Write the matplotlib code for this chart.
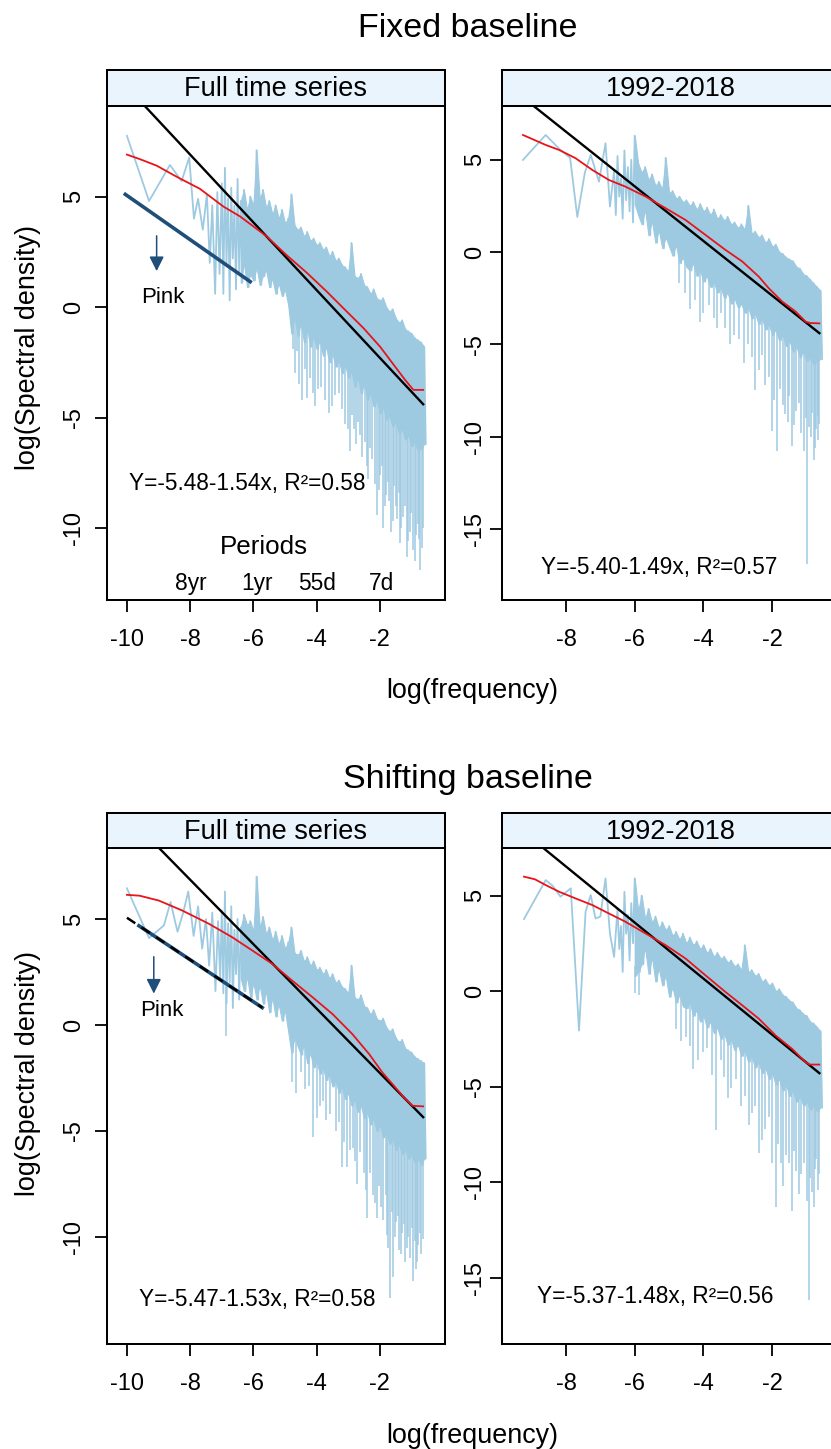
"""
Spectral density panels: fixed vs shifting baseline
"""
import numpy as np
import matplotlib
matplotlib.use("Agg")
import matplotlib.pyplot as plt

plt.rcParams['font.family'] = ['Liberation Sans', 'DejaVu Sans']
plt.rcParams['axes.unicode_minus'] = False

W, H = 831, 1449

LIGHT = '#9ecae1'
RED = '#e8141a'
NAVY = '#1f4e79'
STRIP = '#eaf4fc'

# ---------------- data ----------------
# light blue periodogram: sparse low-frequency vertices, then the dense band
# (upper edge / body lower edge on a 0.1 grid of log frequency) and its downward spikes

# Fixed baseline, full time series
fix_full_lf_x = [-10.0, -9.3, -8.64, -8.27, -8.03, -7.88, -7.75, -7.6, -7.47, -7.38,
                 -7.3, -7.21, -7.14, -7.07]
fix_full_lf_y = [7.75, 4.8, 6.43, 5.7, 6.77, 4.0, 4.9, 3.5, 5.1, 2.0,
                 4.6, 0.6, 5.2, 1.5]
fix_full_band_start = -7.0
fix_full_hi = [5.6, 6.3, 4.9, 5.4, 4.6, 5.8, 4.8, 5.3, 4.4, 5.0,
               4.6, 7.1, 4.9, 5.3, 4.5, 4.8, 4.2, 4.6, 4.0, 4.4,
               3.8, 4.0, 5.1, 3.7, 3.5, 3.6, 3.2, 3.4, 3.0, 3.1,
               2.8, 2.9, 2.6, 2.7, 2.3, 2.5, 2.1, 2.2, 1.9, 1.8,
               1.6, 2.9, 1.4, 1.3, 1.5, 1.0, 0.9, 0.6, 0.8, 0.4,
               0.3, 0.4, 0.0, -0.2, -0.1, -0.5, -0.7, -0.6, -1.0, -1.1,
               -1.2, -1.4, -1.5, -1.6, -1.8]
fix_full_lo = [0.6, 2.0, 0.3, 2.2, 0.8, 1.6, 1.1, 2.0, 0.9, 1.5,
               1.2, 1.8, 1.0, 1.4, 1.7, 0.9, 1.3, 0.6, 1.1, 0.5,
               0.8, 0.1, -1.2, -0.4, -1.3, -0.7, -1.6, -1.0, -1.8, -1.3,
               -1.9, -1.5, -2.2, -1.8, -2.5, -2.1, -2.7, -2.4, -3.0, -2.6,
               -3.2, -2.9, -3.6, -3.2, -3.9, -3.5, -4.2, -3.9, -4.5, -4.2,
               -4.8, -4.5, -5.1, -4.9, -5.4, -5.2, -5.7, -5.5, -6.0, -5.8,
               -6.3, -6.1, -6.5, -6.4, -6.2]
fix_full_spike_x = [-4.75, -4.62, -4.45, -4.3, -4.12, -3.95, -3.72, -3.5, -3.3, -3.1,
                    -2.94, -2.82, -2.7, -2.55, -2.42, -2.3, -2.15, -2.1, -1.98, -1.89,
                    -1.8, -1.7, -1.6, -1.5, -1.36, -1.28, -1.15, -1.05, -0.95, -0.85,
                    -0.73, -0.68,
                    -4.68, -4.55, -4.38, -4.2, -4.05, -3.85, -3.62, -3.42, -3.2, -3.02,
                    -2.88, -2.76, -2.62, -2.48, -2.36, -2.24, -2.04, -1.93, -1.84, -1.75,
                    -1.65, -1.55, -1.45, -1.4, -1.32, -1.22, -1.1, -1.0, -0.9, -0.8,
                    -0.76, -0.64]
fix_full_spike_y = [-1.9, -2.0, -4.2, -4.1, -3.9, -3.7, -4.2, -4.5, -3.9, -5.3,
                    -6.5, -5.5, -5.2, -6.8, -7.2, -6.4, -8.0, -9.4, -7.6, -10.0,
                    -8.5, -8.8, -9.7, -9.0, -10.7, -9.5, -11.3, -10.2, -11.0, -10.3,
                    -11.9, -10.9,
                    -3.0, -3.5, -2.8, -3.2, -4.5, -3.6, -4.8, -4.0, -4.6, -5.5,
                    -4.9, -6.2, -5.8, -6.1, -7.8, -6.9, -8.3, -7.2, -9.0, -7.9,
                    -10.2, -8.1, -9.6, -8.4, -10.0, -9.0, -10.6, -9.3, -11.5, -9.8,
                    -10.5, -10.0]
fix_full_red_x = [-10.0, -9.6, -9.06, -8.43, -7.69, -6.95, -6.42, -5.58, -4.95, -4.31,
                  -3.68, -3.05, -2.52, -1.99, -1.57, -1.2, -0.94, -0.63]
fix_full_red_y = [6.9, 6.7, 6.4, 5.9, 5.35, 4.55, 4.1, 3.2, 2.35, 1.55,
                  0.7, -0.2, -0.95, -1.8, -2.6, -3.3, -3.75, -3.75]
fix_full_fit_x = [-9.5, -0.63]
fix_full_fit_y = [9.2, -4.4]

# Fixed baseline, 1992-2018
fix_recent_lf_x = [-9.25, -8.59, -8.2, -7.88, -7.67, -7.45, -7.28, -7.04, -6.85, -6.72]
fix_recent_lf_y = [4.99, 6.34, 5.6, 5.1, 1.9, 4.3, 5.26, 3.81, 5.89, 2.46]
fix_recent_band_start = -6.6
fix_recent_hi = [4.4, 5.2, 4.0, 5.5, 4.6, 5.0, 6.3, 4.8, 4.3, 4.6,
                 3.9, 4.2, 3.6, 3.8, 3.4, 5.1, 3.2, 3.3, 2.9, 3.0,
                 2.7, 2.8, 2.5, 2.7, 2.3, 2.6, 2.2, 2.4, 2.0, 2.3,
                 1.8, 2.0, 1.7, 1.9, 1.5, 1.6, 1.3, 1.5, 1.2, 2.5,
                 1.0, 1.1, 0.8, 0.9, 0.5, 0.7, 0.3, 0.4, 0.0, -0.1,
                 -0.3, -0.4, -0.5, -0.8, -0.9, -1.2, -1.3, -1.5, -1.7, -1.9,
                 -2.1]
fix_recent_lo = [2.0, 3.0, 1.8, 2.8, 2.2, 1.6, 2.6, 2.0, 1.5, 2.3,
                 0.9, 1.7, 0.5, 1.2, 0.2, 0.8, 0.3, -0.2, 0.4, -0.6,
                 -0.3, -0.8, -1.0, -0.6, -1.3, -1.0, -1.6, -1.3, -1.9, -1.6,
                 -2.2, -1.9, -2.5, -2.2, -2.8, -2.5, -3.0, -2.8, -3.3, -3.0,
                 -3.6, -3.3, -3.9, -3.6, -4.2, -3.9, -4.5, -4.2, -4.8, -4.5,
                 -5.1, -4.8, -5.4, -5.1, -5.7, -5.4, -5.9, -5.7, -6.1, -5.9,
                 -5.8]
fix_recent_spike_x = [-4.7, -4.4, -4.0, -3.6, -3.36, -3.1, -2.83, -2.58, -2.4, -2.2,
                      -2.0, -1.86, -1.7, -1.55, -1.42, -1.3, -1.15, -0.98, -0.88, -0.79,
                      -0.72, -0.66,
                      -4.55, -4.25, -4.1, -3.85, -3.7, -3.48, -3.22, -2.96, -2.7, -2.5,
                      -2.3, -2.1, -1.95, -1.78, -1.64, -1.5, -1.36, -1.22, -1.08, -1.02,
                      -0.93, -0.84, -0.75, -0.68, -0.64]
fix_recent_spike_y = [-1.7, -3.1, -3.3, -4.1, -4.1, -4.5, -6.0, -5.7, -6.4, -7.2,
                      -9.7, -10.8, -8.3, -9.2, -10.5, -8.6, -9.8, -16.9, -10.0, -11.3,
                      -9.6, -10.2,
                      -2.2, -2.6, -3.8, -2.9, -3.6, -3.3, -5.0, -4.7, -5.0, -7.5,
                      -5.6, -6.8, -8.0, -7.4, -8.8, -7.8, -9.4, -8.2, -10.8, -9.0,
                      -9.5, -8.7, -10.6, -8.9, -9.3]
fix_recent_red_x = [-9.25, -8.59, -8.2, -7.72, -7.23, -6.75, -6.27, -5.68, -5.1, -4.52,
                    -3.94, -3.36, -2.87, -2.39, -2.1, -1.71, -1.32, -1.03, -0.9, -0.63]
fix_recent_red_y = [6.34, 5.8, 5.53, 5.08, 4.44, 3.9, 3.54, 3.0, 2.37, 1.73,
                    0.92, 0.11, -0.52, -1.34, -1.97, -2.69, -3.23, -3.78, -3.85, -3.87]
fix_recent_fit_x = [-9.0, -0.63]
fix_recent_fit_y = [8.0, -4.4]

# Shifting baseline, full time series
shf_full_lf_x = [-10.0, -9.3, -8.83, -8.62, -8.4, -8.22, -8.06, -7.89, -7.75, -7.62,
                 -7.5, -7.4, -7.3, -7.2, -7.12, -7.05]
shf_full_lf_y = [6.45, 4.1, 4.7, 5.8, 4.4, 5.3, 6.3, 4.2, 5.6, 3.6,
                 5.0, 2.8, 5.3, 1.6, 4.9, 2.2]
shf_full_band_start = -7.0
shf_full_hi = [5.4, 6.3, 4.8, 5.6, 4.5, 5.0, 4.6, 5.2, 4.7, 4.9,
               4.4, 7.0, 4.6, 5.1, 4.3, 4.6, 4.0, 4.4, 3.8, 4.2,
               3.6, 3.9, 4.6, 3.4, 3.3, 3.5, 3.0, 3.2, 2.8, 3.0,
               2.6, 2.7, 2.4, 2.6, 2.2, 2.4, 2.0, 2.1, 1.8, 1.7,
               1.5, 2.8, 1.3, 1.2, 1.4, 0.9, 0.8, 0.5, 0.7, 0.3,
               0.2, 0.3, -0.1, -0.3, -0.2, -0.6, -0.8, -0.7, -1.1, -1.2,
               -1.3, -1.5, -1.6, -1.7, -1.8]
shf_full_lo = [1.5, 1.0, 2.0, 0.8, 2.4, 1.2, 2.2, 1.6, 2.3, 1.3,
               2.0, 1.2, 1.9, 1.0, 1.6, 0.6, 1.3, 0.4, 1.0, 0.2,
               0.7, -0.3, -1.3, -0.6, -1.0, -1.4, -0.9, -1.8, -1.3, -2.0,
               -1.7, -2.3, -2.0, -2.6, -2.3, -2.9, -2.6, -3.2, -2.9, -3.5,
               -3.2, -3.8, -3.5, -4.1, -3.8, -4.4, -4.1, -4.7, -4.4, -5.0,
               -4.7, -5.3, -5.0, -5.6, -5.3, -5.9, -5.6, -6.1, -5.9, -6.3,
               -6.1, -6.5, -6.3, -6.6, -6.3]
shf_full_spike_x = [-6.87, -4.77, -4.5, -4.13, -3.9, -3.7, -3.4, -3.2, -3.05, -2.85,
                    -2.73, -2.5, -2.4, -2.22, -2.1, -1.95, -1.78, -1.68, -1.57, -1.48,
                    -1.38, -1.3, -1.2, -1.1, -0.94, -0.86, -0.78, -0.7,
                    -4.65, -4.38, -4.25, -4.0, -3.8, -3.58, -3.3, -3.12, -2.95, -2.8,
                    -2.62, -2.45, -2.3, -2.15, -2.02, -1.9, -1.82, -1.73, -1.62, -1.52,
                    -1.43, -1.34, -1.25, -1.15, -1.05, -0.98, -0.9, -0.82, -0.74, -0.65]
shf_full_spike_y = [-0.5, -2.7, -2.2, -5.3, -3.8, -4.5, -5.0, -6.7, -6.7, -5.8,
                    -7.5, -7.0, -9.1, -8.0, -9.1, -8.6, -9.9, -12.9, -11.9, -9.3,
                    -10.6, -9.8, -11.2, -10.0, -12.1, -11.5, -10.4, -10.8,
                    -3.2, -3.0, -2.9, -4.4, -3.6, -4.2, -4.6, -5.5, -5.9, -6.4,
                    -6.0, -7.8, -7.0, -8.4, -7.6, -9.2, -8.0, -10.5, -8.8, -10.0,
                    -9.0, -10.8, -9.4, -10.5, -11.0, -9.6, -10.2, -11.2, -9.8, -10.1]
shf_full_red_x = [-10.0, -9.6, -8.99, -8.25, -7.4, -6.67, -6.03, -5.4, -4.77, -4.13,
                  -3.5, -2.87, -2.34, -1.92, -1.6, -1.25, -0.97, -0.63]
shf_full_red_y = [6.14, 6.1, 5.87, 5.4, 4.77, 4.14, 3.51, 2.88, 2.09, 1.31,
                  0.52, -0.43, -1.37, -2.24, -2.79, -3.4, -3.81, -3.84]
shf_full_fit_x = [-9.05, -0.63]
shf_full_fit_y = [8.45, -4.35]

# Shifting baseline, 1992-2018
shf_recent_lf_x = [-9.22, -8.59, -8.38, -8.16, -7.86, -7.62, -7.43, -7.28, -7.14, -7.0,
                   -6.85, -6.72, -6.6]
shf_recent_lf_y = [3.77, 5.81, 5.5, 4.94, 5.38, -2.07, 4.15, 5.03, 3.8, 3.9,
                   5.9, 3.0, 1.79]
shf_recent_band_start = -6.5
shf_recent_hi = [4.3, 3.4, 5.2, 4.0, 4.6, 5.9, 4.2, 5.0, 3.8, 4.3,
                 3.6, 3.9, 3.3, 3.6, 3.2, 3.4, 2.9, 3.1, 2.7, 3.0,
                 2.5, 2.8, 2.4, 2.6, 2.2, 2.4, 2.0, 2.2, 1.8, 2.0,
                 1.7, 1.8, 1.5, 1.6, 1.3, 1.4, 1.1, 2.4, 1.0, 1.1,
                 0.8, 0.9, 0.5, 0.6, 0.3, 0.4, 0.0, 0.1, -0.2, -0.3,
                 -0.5, -0.6, -0.9, -1.0, -1.2, -1.3, -1.6, -1.7, -1.9, -2.1]
shf_recent_lo = [2.2, 1.0, 3.0, 1.6, 2.5, 0.8, 1.0, 1.4, 2.3, 0.9,
                 1.8, 0.5, 1.2, 0.3, 0.8, -0.3, 0.2, -0.6, -0.2, -0.8,
                 -0.9, -0.6, -1.3, -1.0, -1.6, -1.3, -1.9, -1.6, -2.2, -1.9,
                 -2.5, -2.2, -2.8, -2.5, -3.1, -2.8, -3.4, -3.1, -3.7, -3.4,
                 -4.0, -3.7, -4.3, -4.0, -4.6, -4.3, -4.9, -4.6, -5.2, -4.9,
                 -5.5, -5.2, -5.8, -5.5, -6.0, -5.8, -6.2, -6.0, -6.3, -6.1]
shf_recent_spike_x = [-6.0, -5.88, -4.8, -4.5, -4.3, -4.0, -3.65, -3.4, -3.2, -2.9,
                      -2.6, -2.4, -2.2, -1.9, -1.75, -1.6, -1.42, -1.3, -1.15, -0.94,
                      -0.85, -0.75, -0.68,
                      -4.65, -4.4, -4.15, -3.9, -3.75, -3.5, -3.3, -3.05, -2.8, -2.68,
                      -2.5, -2.3, -2.1, -2.0, -1.82, -1.68, -1.52, -1.36, -1.22, -1.08,
                      -1.0, -0.9, -0.8, -0.72, -0.64]
shf_recent_spike_y = [-0.1, -0.2, -2.0, -2.4, -4.1, -3.2, -7.3, -4.5, -5.1, -6.0,
                      -6.4, -8.5, -7.2, -11.3, -9.0, -8.6, -11.5, -9.4, -9.6, -16.2,
                      -10.5, -9.3, -10.4,
                      -2.6, -2.9, -3.6, -3.0, -4.4, -3.6, -5.6, -4.6, -5.5, -7.0,
                      -6.0, -7.8, -6.6, -9.0, -8.0, -10.2, -9.0, -8.4, -10.6, -9.0,
                      -11.0, -9.8, -11.3, -8.8, -9.6]
shf_recent_red_x = [-9.22, -8.9, -8.59, -8.2, -7.72, -7.23, -6.75, -6.27, -5.68, -5.1,
                    -4.52, -3.94, -3.36, -2.87, -2.39, -1.9, -1.42, -1.03, -0.9, -0.63]
shf_recent_red_y = [5.99, 5.85, 5.55, 5.2, 4.85, 4.5, 4.06, 3.63, 3.01, 2.4,
                    1.7, 0.82, -0.05, -0.75, -1.45, -2.33, -3.03, -3.73, -3.85, -3.85]
shf_recent_fit_x = [-8.7, -0.63]
shf_recent_fit_y = [7.55, -4.3]

# pink-noise reference lines
fix_pink_x = [-10.05, -6.1]
fix_pink_y = [5.1, 1.15]
shf_pink_x = [-9.62, -5.72]
shf_pink_y = [4.68, 0.82]
shf_pink_dash_x = [-10.0, -5.72]
shf_pink_dash_y = [5.06, 0.82]

# period labels on the top-left panel
period_labels = ['8yr', '1yr', '55d', '7d']
period_pos = [-7.98, -5.9, -4.0, -1.95]

equations = ['Y=-5.48-1.54x, R\u00b2=0.58', 'Y=-5.40-1.49x, R\u00b2=0.57',
             'Y=-5.47-1.53x, R\u00b2=0.58', 'Y=-5.37-1.48x, R\u00b2=0.56']


def px_rect(left, top, width, height):
    return [left / W, 1 - (top + height) / H, width / W, height / H]


def draw_spectrum(ax, lf_x, lf_y, start, hi, lo, spike_x, spike_y, fill_from):
    grid = start + 0.1 * np.arange(len(hi))
    hi = np.asarray(hi)
    lo = np.asarray(lo)
    # zigzag between upper edge and lower edge, joined to the sparse part
    zx = np.column_stack([grid, grid + 0.05]).ravel()
    zy = np.column_stack([hi, lo]).ravel()
    ax.plot(np.concatenate([lf_x, zx]), np.concatenate([lf_y, zy]),
            color=LIGHT, lw=1.3, zorder=2)
    keep = grid >= fill_from - 1e-9
    ax.fill_between(grid[keep], lo[keep], hi[keep], color=LIGHT, lw=0.8, zorder=2)
    top = np.interp(spike_x, grid, lo) + 0.5
    ax.vlines(spike_x, spike_y, top, color=LIGHT, lw=1.1, zorder=2)


def make_panel(fig, left, top, bottom, strip_top, label, xlim, ylim, xticks, yticks,
               spec, fill_from, red, fit, eq, eq_pos, ylab_pad):
    ax = fig.add_axes(px_rect(left, top, 338, bottom - top))
    draw_spectrum(ax, *spec, fill_from)
    ax.plot(red[0], red[1], color=RED, lw=1.3, zorder=4)
    ax.plot(fit[0], fit[1], color='black', lw=1.7, zorder=3)
    ax.set_xlim(xlim)
    ax.set_ylim(ylim)
    ax.set_xticks(xticks)
    ax.set_yticks(yticks)
    ax.set_xticklabels([str(t) for t in xticks])
    ax.set_yticklabels([str(t) for t in yticks])
    for s in ax.spines.values():
        s.set_linewidth(1.45)
    ax.tick_params(axis='both', length=8.5, width=1.3, labelsize=17)
    ax.tick_params(axis='x', pad=12.5)
    ax.tick_params(axis='y', pad=ylab_pad, labelrotation=90)
    for lab in ax.get_yticklabels():
        lab.set_va('center')
    ax.text(eq_pos[0], eq_pos[1], eq, ha='center', va='center', fontsize=16.3)

    sax = fig.add_axes(px_rect(left, strip_top, 338, top - strip_top))
    sax.set_facecolor(STRIP)
    sax.set_xticks([])
    sax.set_yticks([])
    for s in sax.spines.values():
        s.set_linewidth(1.45)
    sax.text(0.5, 0.47, label, ha='center', va='center', fontsize=19.5,
             transform=sax.transAxes)
    return ax


if __name__ == "__main__":
    fig = plt.figure(figsize=(W / 100, H / 100), dpi=100)

    # ---- fixed baseline ----
    ax1 = make_panel(fig, 107, 106, 600, 70, 'Full time series',
                     (-10.63, 0.06), (-13.26, 9.1), [-10, -8, -6, -4, -2], [-10, -5, 0, 5],
                     (fix_full_lf_x, fix_full_lf_y, fix_full_band_start, fix_full_hi,
                      fix_full_lo, fix_full_spike_x, fix_full_spike_y), -6.4,
                     (fix_full_red_x, fix_full_red_y), (fix_full_fit_x, fix_full_fit_y),
                     equations[0], (-6.2, -8.0), 7)
    ax1.plot(fix_pink_x, fix_pink_y, color=NAVY, lw=2.6, zorder=3)
    ax1.annotate('', xy=(-9.06, 1.5), xytext=(-9.06, 3.35),
                 arrowprops=dict(arrowstyle='-|>', color=NAVY, lw=1.1, mutation_scale=22))
    ax1.text(-8.86, 0.45, 'Pink', ha='center', va='center', fontsize=16)
    ax1.text(-5.66, -10.85, 'Periods', ha='center', va='center', fontsize=18.7)
    for lab, p in zip(period_labels, period_pos):
        ax1.text(p, -12.5, lab, ha='center', va='center', fontsize=16.4)

    make_panel(fig, 502, 106, 600, 70, '1992-2018',
               (-9.86, -0.03), (-18.86, 7.91), [-8, -6, -4, -2], [-15, -10, -5, 0, 5],
               (fix_recent_lf_x, fix_recent_lf_y, fix_recent_band_start, fix_recent_hi,
                fix_recent_lo, fix_recent_spike_x, fix_recent_spike_y), -6.0,
               (fix_recent_red_x, fix_recent_red_y), (fix_recent_fit_x, fix_recent_fit_y),
               equations[1], (-5.3, -17.1), 3)

    # ---- shifting baseline ----
    ax3 = make_panel(fig, 107, 848, 1344, 813, 'Full time series',
                     (-10.63, 0.06), (-15.05, 8.35), [-10, -8, -6, -4, -2], [-10, -5, 0, 5],
                     (shf_full_lf_x, shf_full_lf_y, shf_full_band_start, shf_full_hi,
                      shf_full_lo, shf_full_spike_x, shf_full_spike_y), -6.4,
                     (shf_full_red_x, shf_full_red_y), (shf_full_fit_x, shf_full_fit_y),
                     equations[2], (-5.88, -12.94), 7)
    ax3.plot(shf_pink_x, shf_pink_y, color=NAVY, lw=2.6, zorder=3)
    ax3.plot(shf_pink_dash_x, shf_pink_dash_y, color='black', lw=1.8, ls=(0, (4, 3)), zorder=3)
    ax3.annotate('', xy=(-9.15, 1.35), xytext=(-9.15, 3.35),
                 arrowprops=dict(arrowstyle='-|>', color=NAVY, lw=1.1, mutation_scale=22))
    ax3.text(-8.9, 0.68, 'Pink', ha='center', va='center', fontsize=16)

    make_panel(fig, 502, 848, 1344, 813, '1992-2018',
               (-9.86, -0.03), (-18.48, 7.49), [-8, -6, -4, -2], [-15, -10, -5, 0, 5],
               (shf_recent_lf_x, shf_recent_lf_y, shf_recent_band_start, shf_recent_hi,
                shf_recent_lo, shf_recent_spike_x, shf_recent_spike_y), -6.0,
               (shf_recent_red_x, shf_recent_red_y), (shf_recent_fit_x, shf_recent_fit_y),
               equations[3], (-5.39, -16.0), 3)

    # titles and axis labels
    fig.text(468 / W, 1 - 37 / H, 'Fixed baseline', ha='center', va='baseline', fontsize=24.5)
    fig.text(468 / W, 1 - 788 / H, 'Shifting baseline', ha='center', va='baseline', fontsize=24.5)
    fig.text(472 / W, 1 - 691 / H, 'log(frequency)', ha='center', va='center', fontsize=19.4)
    fig.text(472 / W, 1 - 1436 / H, 'log(frequency)', ha='center', va='center', fontsize=19.4)
    fig.text(28 / W, 1 - 348 / H, 'log(Spectral density)', rotation=90,
             ha='center', va='center', fontsize=19.4)
    fig.text(28 / W, 1 - 1074 / H, 'log(Spectral density)', rotation=90,
             ha='center', va='center', fontsize=19.4)

    fig.savefig('out.png', dpi=100)
